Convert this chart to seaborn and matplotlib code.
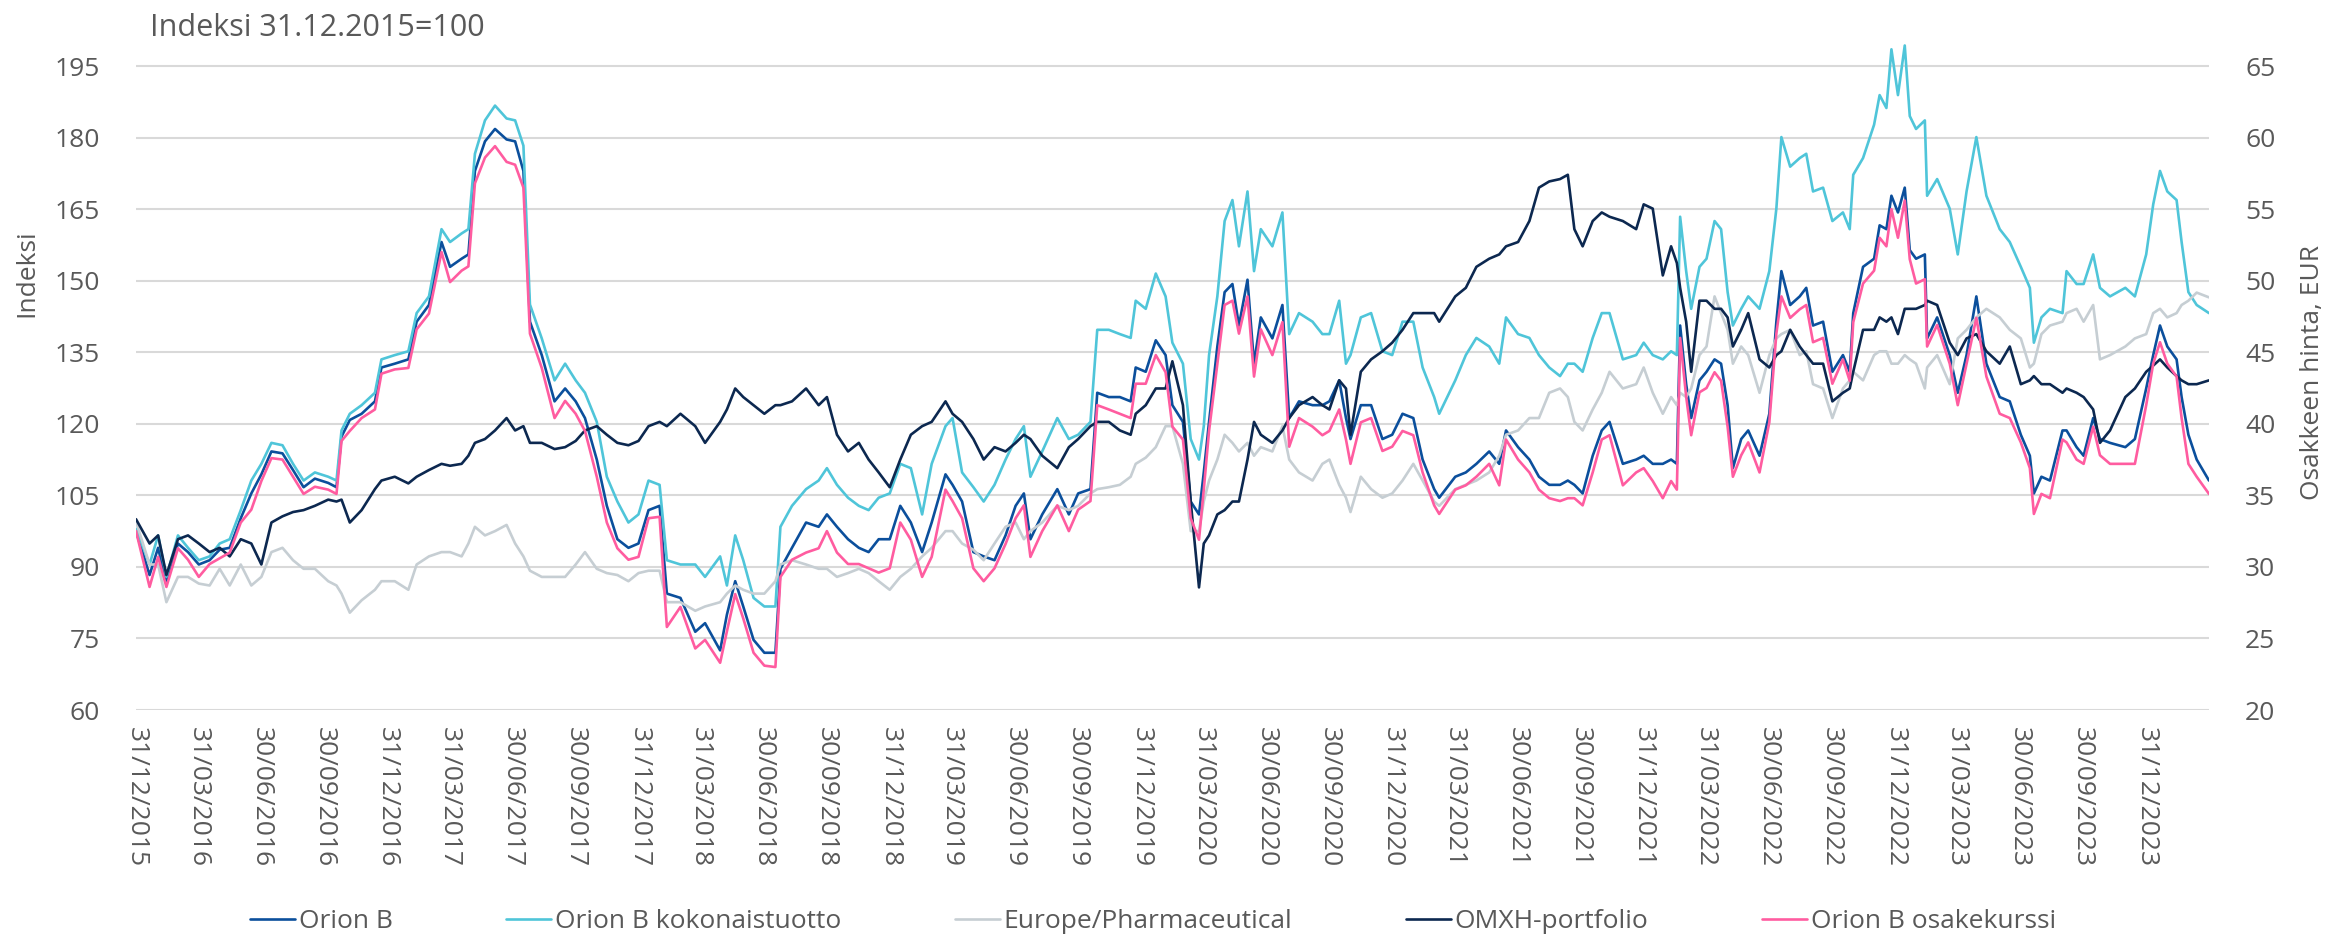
import numpy as np
import pandas as pd
import matplotlib
matplotlib.use("Agg")
import matplotlib.pyplot as plt
import seaborn as sns

# ──────────────────────────────────────────
# DATA (time as decimal year, 2016.0 = 31.12.2015)
# ──────────────────────────────────────────
t = [
    2016.000, 2016.054, 2016.088, 2016.121, 2016.167, 2016.207, 2016.250, 2016.293, 2016.333, 2016.373,
    2016.417, 2016.459, 2016.499, 2016.539, 2016.583, 2016.625, 2016.667, 2016.712, 2016.765, 2016.798,
    2016.818, 2016.851, 2016.898, 2016.951, 2016.977, 2017.030, 2017.084, 2017.117, 2017.166, 2017.216,
    2017.250, 2017.296, 2017.323, 2017.349, 2017.389, 2017.429, 2017.475, 2017.509, 2017.542, 2017.568,
    2017.615, 2017.666, 2017.708, 2017.750, 2017.787, 2017.834, 2017.874, 2017.916, 2017.960, 2018.000,
    2018.040, 2018.084, 2018.113, 2018.167, 2018.226, 2018.265, 2018.325, 2018.352, 2018.385, 2018.417,
    2018.458, 2018.501, 2018.545, 2018.565, 2018.611, 2018.667, 2018.717, 2018.750, 2018.790, 2018.834,
    2018.877, 2018.916, 2018.956, 2019.000, 2019.042, 2019.084, 2019.129, 2019.167, 2019.222, 2019.250,
    2019.288, 2019.333, 2019.374, 2019.417, 2019.461, 2019.501, 2019.534, 2019.560, 2019.607, 2019.667,
    2019.713, 2019.750, 2019.799, 2019.826, 2019.872, 2019.916, 2019.959, 2019.979, 2020.019, 2020.059,
    2020.098, 2020.125, 2020.167, 2020.198, 2020.231, 2020.250, 2020.271, 2020.304, 2020.333, 2020.364,
    2020.390, 2020.424, 2020.450, 2020.477, 2020.523, 2020.563, 2020.590, 2020.629, 2020.683, 2020.722,
    2020.750, 2020.789, 2020.816, 2020.834, 2020.875, 2020.916, 2020.961, 2021.000, 2021.041, 2021.084,
    2021.121, 2021.167, 2021.187, 2021.251, 2021.293, 2021.335, 2021.386, 2021.426, 2021.453, 2021.501,
    2021.546, 2021.584, 2021.625, 2021.668, 2021.699, 2021.725, 2021.758, 2021.798, 2021.834, 2021.865,
    2021.918, 2021.971, 2022.001, 2022.037, 2022.077, 2022.110, 2022.133, 2022.146, 2022.170, 2022.190,
    2022.223, 2022.251, 2022.283, 2022.309, 2022.335, 2022.356, 2022.389, 2022.417, 2022.462, 2022.501,
    2022.529, 2022.549, 2022.584, 2022.622, 2022.648, 2022.675, 2022.715, 2022.752, 2022.794, 2022.821,
    2022.835, 2022.874, 2022.918, 2022.940, 2022.967, 2022.987, 2023.013, 2023.040, 2023.060, 2023.085,
    2023.120, 2023.129, 2023.169, 2023.219, 2023.251, 2023.286, 2023.325, 2023.365, 2023.418, 2023.458,
    2023.502, 2023.538, 2023.554, 2023.584, 2023.618, 2023.668, 2023.684, 2023.724, 2023.752, 2023.790,
    2023.817, 2023.857, 2023.918, 2023.956, 2024.001, 2024.029, 2024.056, 2024.085, 2024.122, 2024.142,
    2024.169, 2024.202, 2024.251,
]

orion_b = [
    97.5, 88.3, 94.0, 86.5, 94.9, 93.1, 90.5, 91.4, 93.6, 94.0,
    100.2, 105.4, 109.4, 114.2, 113.8, 110.3, 106.7, 108.5, 107.6, 106.7,
    117.3, 120.8, 122.1, 124.7, 131.8, 132.6, 133.5, 141.4, 144.9, 158.1,
    152.9, 154.6, 155.5, 173.0, 179.2, 181.8, 179.6, 179.2, 173.0, 141.4,
    134.4, 124.7, 127.4, 124.7, 121.2, 112.5, 102.8, 95.8, 94.0, 94.9,
    101.9, 102.8, 84.4, 83.5, 76.4, 78.2, 72.5, 80.0, 87.0, 81.7,
    74.7, 72.0, 72.0, 89.6, 94.0, 99.3, 98.4, 101.0, 98.4, 95.8,
    94.0, 93.1, 95.8, 95.8, 102.8, 99.3, 93.1, 99.3, 109.4, 107.2,
    103.7, 93.1, 92.2, 91.4, 96.6, 102.8, 105.4, 95.8, 101.0, 106.3,
    101.0, 105.4, 106.3, 126.5, 125.6, 125.6, 124.7, 131.8, 130.9, 137.5,
    134.4, 123.9, 120.4, 103.7, 101.0, 109.8, 120.4, 136.2, 147.6, 149.3,
    140.6, 150.2, 132.6, 142.3, 137.9, 144.9, 121.2, 124.7, 123.9, 123.9,
    124.7, 129.1, 121.2, 116.8, 123.9, 123.9, 116.8, 117.7, 122.1, 121.2,
    112.5, 106.3, 104.5, 108.9, 109.8, 111.6, 114.2, 111.6, 118.6, 115.1,
    112.5, 108.9, 107.2, 107.2, 108.1, 107.2, 105.4, 113.3, 118.6, 120.4,
    111.6, 112.5, 113.3, 111.6, 111.6, 112.5, 111.6, 140.6, 128.3, 121.2,
    129.1, 130.9, 133.5, 132.6, 123.9, 110.7, 116.8, 118.6, 113.3, 122.1,
    141.4, 152.0, 144.9, 146.7, 148.5, 140.6, 141.4, 130.9, 134.4, 130.9,
    143.2, 152.9, 154.6, 161.6, 160.8, 167.8, 164.3, 169.5, 156.4, 154.6,
    155.5, 137.9, 142.3, 134.4, 126.5, 134.4, 146.7, 132.6, 125.6, 124.7,
    117.7, 113.3, 105.4, 108.9, 108.1, 118.6, 118.6, 115.1, 113.3, 121.2,
    116.8, 116.0, 115.1, 116.8, 127.4, 134.4, 140.6, 136.2, 133.5, 125.6,
    117.7, 112.5, 108.1,
]

kokonaistuotto = [
    98.0, 90.5, 96.6, 87.9, 96.6, 94.0, 91.4, 92.2, 94.9, 95.8,
    101.9, 108.1, 111.6, 116.0, 115.5, 111.6, 108.1, 109.8, 108.9, 108.1,
    118.6, 122.1, 123.9, 126.5, 133.5, 134.4, 135.2, 143.2, 146.7, 160.8,
    158.1, 159.9, 160.8, 176.6, 183.6, 186.7, 184.0, 183.6, 178.3, 145.0,
    137.9, 129.1, 132.6, 129.1, 126.5, 120.4, 108.9, 103.7, 99.3, 101.0,
    108.1, 107.2, 91.4, 90.5, 90.5, 87.9, 92.2, 86.1, 96.6, 91.4,
    83.5, 81.7, 81.7, 98.4, 102.8, 106.3, 108.1, 110.7, 107.2, 104.5,
    102.8, 101.9, 104.5, 105.4, 111.6, 110.7, 101.0, 111.6, 119.5, 121.2,
    109.8, 106.7, 103.7, 107.2, 112.5, 116.8, 119.5, 108.9, 114.2, 121.2,
    116.8, 117.7, 120.4, 139.7, 139.7, 138.8, 138.0, 145.8, 144.1, 151.5,
    146.7, 137.0, 132.6, 116.8, 112.5, 119.5, 134.4, 146.7, 162.5, 166.9,
    157.2, 168.7, 152.0, 160.8, 157.2, 164.3, 138.8, 143.2, 141.4, 138.8,
    138.8, 145.8, 132.6, 134.4, 142.3, 143.2, 135.2, 134.4, 141.4, 141.4,
    131.8, 125.6, 122.1, 129.1, 134.4, 138.0, 136.2, 132.6, 142.3, 138.8,
    138.0, 134.4, 131.8, 130.0, 132.6, 132.6, 130.9, 138.0, 143.2, 143.2,
    133.5, 134.4, 137.0, 134.4, 133.5, 135.2, 134.4, 163.4, 152.0, 144.1,
    152.9, 154.6, 162.5, 160.8, 147.6, 140.6, 144.1, 146.7, 144.1, 152.0,
    165.1, 180.1, 173.9, 175.7, 176.6, 168.7, 169.5, 162.5, 164.3, 160.8,
    172.2, 175.7, 182.7, 188.9, 186.2, 198.5, 188.9, 199.3, 184.5, 181.8,
    183.6, 167.8, 171.3, 165.1, 155.5, 168.7, 180.1, 167.8, 160.8, 158.1,
    152.9, 148.5, 137.0, 142.3, 144.1, 143.2, 152.0, 149.3, 149.3, 155.5,
    148.5, 146.7, 148.5, 146.7, 155.5, 166.0, 173.0, 168.7, 166.9, 158.1,
    147.6, 144.9, 143.2,
]

europe_pharma = [
    99.5, 90.5, 90.5, 82.6, 87.9, 87.9, 86.5, 86.1, 89.6, 86.1,
    90.5, 86.1, 87.9, 93.1, 94.0, 91.4, 89.6, 89.6, 87.0, 86.1,
    84.4, 80.4, 83.0, 85.2, 87.0, 87.0, 85.2, 90.5, 92.2, 93.1,
    93.1, 92.2, 94.9, 98.4, 96.6, 97.5, 98.8, 94.9, 92.2, 89.2,
    87.9, 87.9, 87.9, 90.5, 93.1, 89.6, 88.7, 88.3, 87.0, 88.7,
    89.2, 89.2, 82.6, 82.6, 80.8, 81.7, 82.6, 84.4, 86.1, 85.2,
    84.4, 84.4, 87.0, 90.5, 91.4, 90.5, 89.6, 89.6, 87.9, 88.7,
    89.6, 88.7, 87.0, 85.2, 87.9, 89.6, 92.2, 94.0, 97.5, 97.5,
    94.9, 93.6, 91.4, 94.9, 98.4, 99.3, 95.8, 97.5, 99.3, 102.8,
    101.9, 102.8, 105.4, 106.3, 106.7, 107.2, 108.9, 111.6, 112.9, 115.1,
    119.5, 119.5, 111.6, 97.5, 97.5, 103.7, 108.1, 112.5, 117.7, 116.0,
    114.2, 116.0, 113.3, 115.1, 114.2, 119.5, 112.5, 109.8, 108.1, 111.6,
    112.5, 107.2, 104.5, 101.5, 108.9, 106.3, 104.5, 105.4, 108.1, 111.6,
    108.1, 103.7, 102.8, 106.3, 107.2, 108.1, 109.8, 113.3, 117.7, 118.6,
    121.2, 121.2, 126.5, 127.4, 125.6, 120.4, 118.6, 123.0, 126.5, 130.9,
    127.4, 128.3, 131.8, 126.5, 122.1, 125.6, 123.9, 126.5, 125.6, 127.4,
    134.4, 136.2, 146.7, 143.2, 139.7, 132.6, 136.2, 134.4, 126.5, 134.4,
    137.9, 138.8, 139.7, 134.4, 135.2, 128.3, 127.4, 121.2, 127.4, 129.1,
    130.9, 129.1, 134.4, 135.2, 135.2, 132.6, 132.6, 134.4, 133.5, 132.6,
    127.4, 131.8, 134.4, 128.3, 137.9, 139.7, 142.3, 144.1, 142.3, 139.7,
    137.9, 131.8, 132.6, 138.8, 140.6, 141.4, 143.2, 144.1, 141.4, 144.9,
    133.5, 134.4, 136.2, 137.9, 138.8, 143.2, 144.1, 142.3, 143.2, 144.9,
    145.8, 147.5, 146.5,
]

omxh = [
    100.0, 94.9, 96.6, 88.3, 95.8, 96.6, 94.9, 93.1, 94.0, 92.2,
    95.8, 94.9, 90.5, 99.3, 100.6, 101.5, 101.9, 102.8, 104.1, 103.7,
    104.1, 99.3, 101.9, 106.3, 108.1, 108.9, 107.5, 108.9, 110.3, 111.6,
    111.2, 111.6, 113.3, 116.0, 116.8, 118.6, 121.2, 118.6, 119.5, 116.0,
    116.0, 114.7, 115.1, 116.4, 118.6, 119.5, 117.7, 116.0, 115.5, 116.4,
    119.5, 120.4, 119.5, 122.1, 119.5, 116.0, 120.4, 123.0, 127.4, 125.6,
    123.9, 122.1, 123.9, 123.9, 124.7, 127.4, 123.9, 125.6, 117.7, 114.2,
    116.0, 112.5, 109.8, 106.7, 112.5, 117.7, 119.5, 120.4, 124.7, 122.1,
    120.4, 116.8, 112.5, 115.1, 114.2, 116.0, 117.7, 116.8, 113.3, 110.7,
    115.1, 116.8, 119.5, 120.4, 120.4, 118.6, 117.7, 122.1, 123.9, 127.4,
    127.4, 133.1, 123.9, 103.7, 85.7, 94.9, 96.6, 101.0, 101.9, 103.7,
    103.7, 112.5, 120.4, 117.7, 116.0, 118.6, 121.2, 123.9, 125.6, 123.9,
    123.0, 129.1, 127.4, 117.7, 130.9, 133.5, 135.2, 137.0, 139.7, 143.2,
    143.2, 143.2, 141.4, 146.7, 148.5, 152.9, 154.6, 155.5, 157.2, 158.1,
    162.5, 169.5, 170.8, 171.3, 172.2, 160.8, 157.2, 162.5, 164.3, 163.4,
    162.5, 160.8, 166.0, 165.1, 151.1, 157.2, 153.7, 148.5, 141.4, 130.9,
    145.8, 145.8, 144.1, 144.1, 142.3, 136.2, 139.7, 143.2, 133.5, 131.8,
    134.4, 135.2, 139.7, 136.2, 134.4, 132.6, 132.6, 124.7, 126.5, 127.4,
    130.9, 139.7, 139.7, 142.3, 141.4, 142.3, 138.8, 144.1, 144.1, 144.1,
    144.9, 145.8, 144.9, 137.0, 134.4, 137.9, 138.8, 135.2, 132.6, 136.2,
    128.3, 129.1, 130.0, 128.3, 128.3, 126.5, 127.4, 126.5, 125.6, 123.0,
    116.0, 118.6, 125.6, 127.4, 130.9, 132.2, 133.5, 131.8, 130.0, 129.1,
    128.3, 128.3, 129.1,
]

# share price, EUR (right axis)
osakekurssi = [
    32.5, 28.6, 30.7, 28.6, 31.3, 30.5, 29.3, 30.2, 30.6, 31.0,
    33.1, 34.0, 36.0, 37.6, 37.5, 36.3, 35.1, 35.6, 35.4, 35.1,
    38.8, 39.5, 40.4, 41.0, 43.5, 43.8, 43.9, 46.6, 47.7, 52.0,
    49.9, 50.7, 51.0, 56.8, 58.6, 59.4, 58.3, 58.1, 56.5, 46.3,
    43.9, 40.4, 41.6, 40.7, 39.5, 36.3, 33.1, 31.3, 30.5, 30.7,
    33.4, 33.5, 25.8, 27.2, 24.3, 24.9, 23.3, 25.5, 28.1, 26.4,
    24.0, 23.1, 23.0, 29.3, 30.5, 31.0, 31.3, 32.5, 31.0, 30.2,
    30.2, 29.9, 29.6, 29.9, 33.1, 31.9, 29.3, 30.7, 35.4, 34.6,
    33.4, 29.9, 29.0, 29.9, 31.6, 33.4, 34.3, 30.7, 32.5, 34.3,
    32.5, 34.0, 34.6, 41.3, 41.0, 40.7, 40.4, 42.8, 42.8, 44.8,
    43.6, 39.8, 38.9, 33.4, 31.9, 35.4, 39.5, 44.2, 48.3, 48.6,
    46.3, 48.9, 43.3, 46.6, 44.8, 47.1, 38.4, 40.4, 39.8, 39.2,
    39.5, 41.0, 38.9, 37.2, 40.1, 40.4, 38.1, 38.4, 39.5, 39.2,
    36.6, 34.3, 33.7, 35.4, 35.7, 36.3, 37.2, 35.7, 38.9, 37.5,
    36.6, 35.4, 34.8, 34.6, 34.8, 34.8, 34.3, 36.6, 38.9, 39.2,
    35.7, 36.6, 36.9, 36.0, 34.8, 36.0, 35.4, 46.0, 41.9, 39.2,
    42.2, 42.5, 43.6, 43.0, 39.8, 36.3, 37.8, 38.7, 36.6, 40.1,
    46.3, 48.9, 47.4, 48.0, 48.3, 45.7, 46.0, 42.8, 44.5, 43.0,
    47.1, 49.8, 50.7, 53.0, 52.4, 55.0, 53.0, 55.6, 51.5, 49.8,
    50.1, 45.4, 46.9, 44.2, 41.3, 44.2, 47.4, 43.3, 40.7, 40.4,
    38.7, 36.9, 33.7, 35.1, 34.8, 38.9, 38.7, 37.5, 37.2, 39.8,
    37.8, 37.2, 37.2, 37.2, 41.3, 44.2, 45.7, 44.2, 43.3, 40.4,
    37.2, 36.3, 35.1,
]

series_names = ["Orion B", "Orion B kokonaistuotto", "Europe/Pharmaceutical", "OMXH-portfolio"]
price_name = "Orion B osakekurssi"
series_colors = ["#0b4f9c", "#4fc5d9", "#c6ced3", "#0c2850"]
price_color = "#ff5ca0"
text_color = "#595959"

# ──────────────────────────────────────────
# FRAME
# ──────────────────────────────────────────
dates = pd.Timestamp("2015-12-31") + pd.to_timedelta((np.array(t) - 2016.0) * 365.25, unit="D")

df = pd.DataFrame({"date": dates})
for name, vals in zip(series_names, [orion_b, kokonaistuotto, europe_pharma, omxh]):
    df[name] = vals
long = df.melt(id_vars="date", var_name="sarja", value_name="arvo")

price = pd.DataFrame({"date": dates, "eur": osakekurssi})

# ──────────────────────────────────────────
# PLOT
# ──────────────────────────────────────────
sns.set_style("white")
plt.rcParams["font.family"] = ["Open Sans", "DejaVu Sans"]
FS = 19
YTOP = 201

fig = plt.figure(figsize=(23.51, 9.43), dpi=100)
top_px = 66 - (YTOP - 195) * 4.77
ax = fig.add_axes([136 / 2351, 1 - 710 / 943, (2209 - 136) / 2351, (710 - top_px) / 943])

sns.lineplot(data=long, x="date", y="arvo", hue="sarja", hue_order=series_names,
             palette=series_colors, estimator=None, linewidth=1.9, legend=False, ax=ax)

ax2 = ax.twinx()
sns.lineplot(data=price, x="date", y="eur", color=price_color, estimator=None,
             linewidth=1.9, ax=ax2)

ax.set_ylim(60, YTOP)
ax2.set_ylim(20, YTOP / 3)
ax.set_yticks(range(60, 196, 15))
ax2.set_yticks(range(20, 66, 5))
ax.set_xlim(dates[0], dates[-1])

qdates = pd.date_range("2015-12-31", "2023-12-31", freq=pd.offsets.QuarterEnd())
ax.set_xticks(qdates)
ax.set_xticklabels([d.strftime("%d/%m/%Y") for d in qdates], rotation=270,
                   ha="center", va="top")

ax.yaxis.grid(True, color="#d9d9d9", linewidth=1.5)
ax.xaxis.grid(False)
ax.set_axisbelow(True)
for a in (ax, ax2):
    for s in a.spines.values():
        s.set_visible(False)
    a.set_xlabel("")
    a.set_ylabel("")

ax.tick_params(axis="y", length=0, labelsize=FS, labelcolor=text_color, pad=26)
ax.tick_params(axis="x", length=0, labelsize=FS, labelcolor=text_color, pad=12)
ax2.tick_params(axis="y", length=0, labelsize=FS, labelcolor=text_color, pad=26)

fig.text(150 / 2351, 1 - 28 / 943, "Indeksi 31.12.2015=100", ha="left", va="center",
         fontsize=22, color=text_color)
fig.text(27 / 2351, 1 - 273 / 943, "Indeksi", rotation=90, ha="center", va="center",
         fontsize=FS, color=text_color)
fig.text(2312 / 2351, 1 - 372 / 943, "Osakkeen hinta, EUR", rotation=90, ha="center",
         va="center", fontsize=FS, color=text_color)

handles = ax.get_lines()[:4] + ax2.get_lines()[:1]
fig.legend(handles, series_names + [price_name], loc="center",
           bbox_to_anchor=(1153 / 2351, 1 - 922 / 943), ncol=5, frameon=False,
           fontsize=FS, labelcolor=text_color, handlelength=1.7, handletextpad=0.15,
           columnspacing=4.3)

fig.savefig("out.png", dpi=100)
